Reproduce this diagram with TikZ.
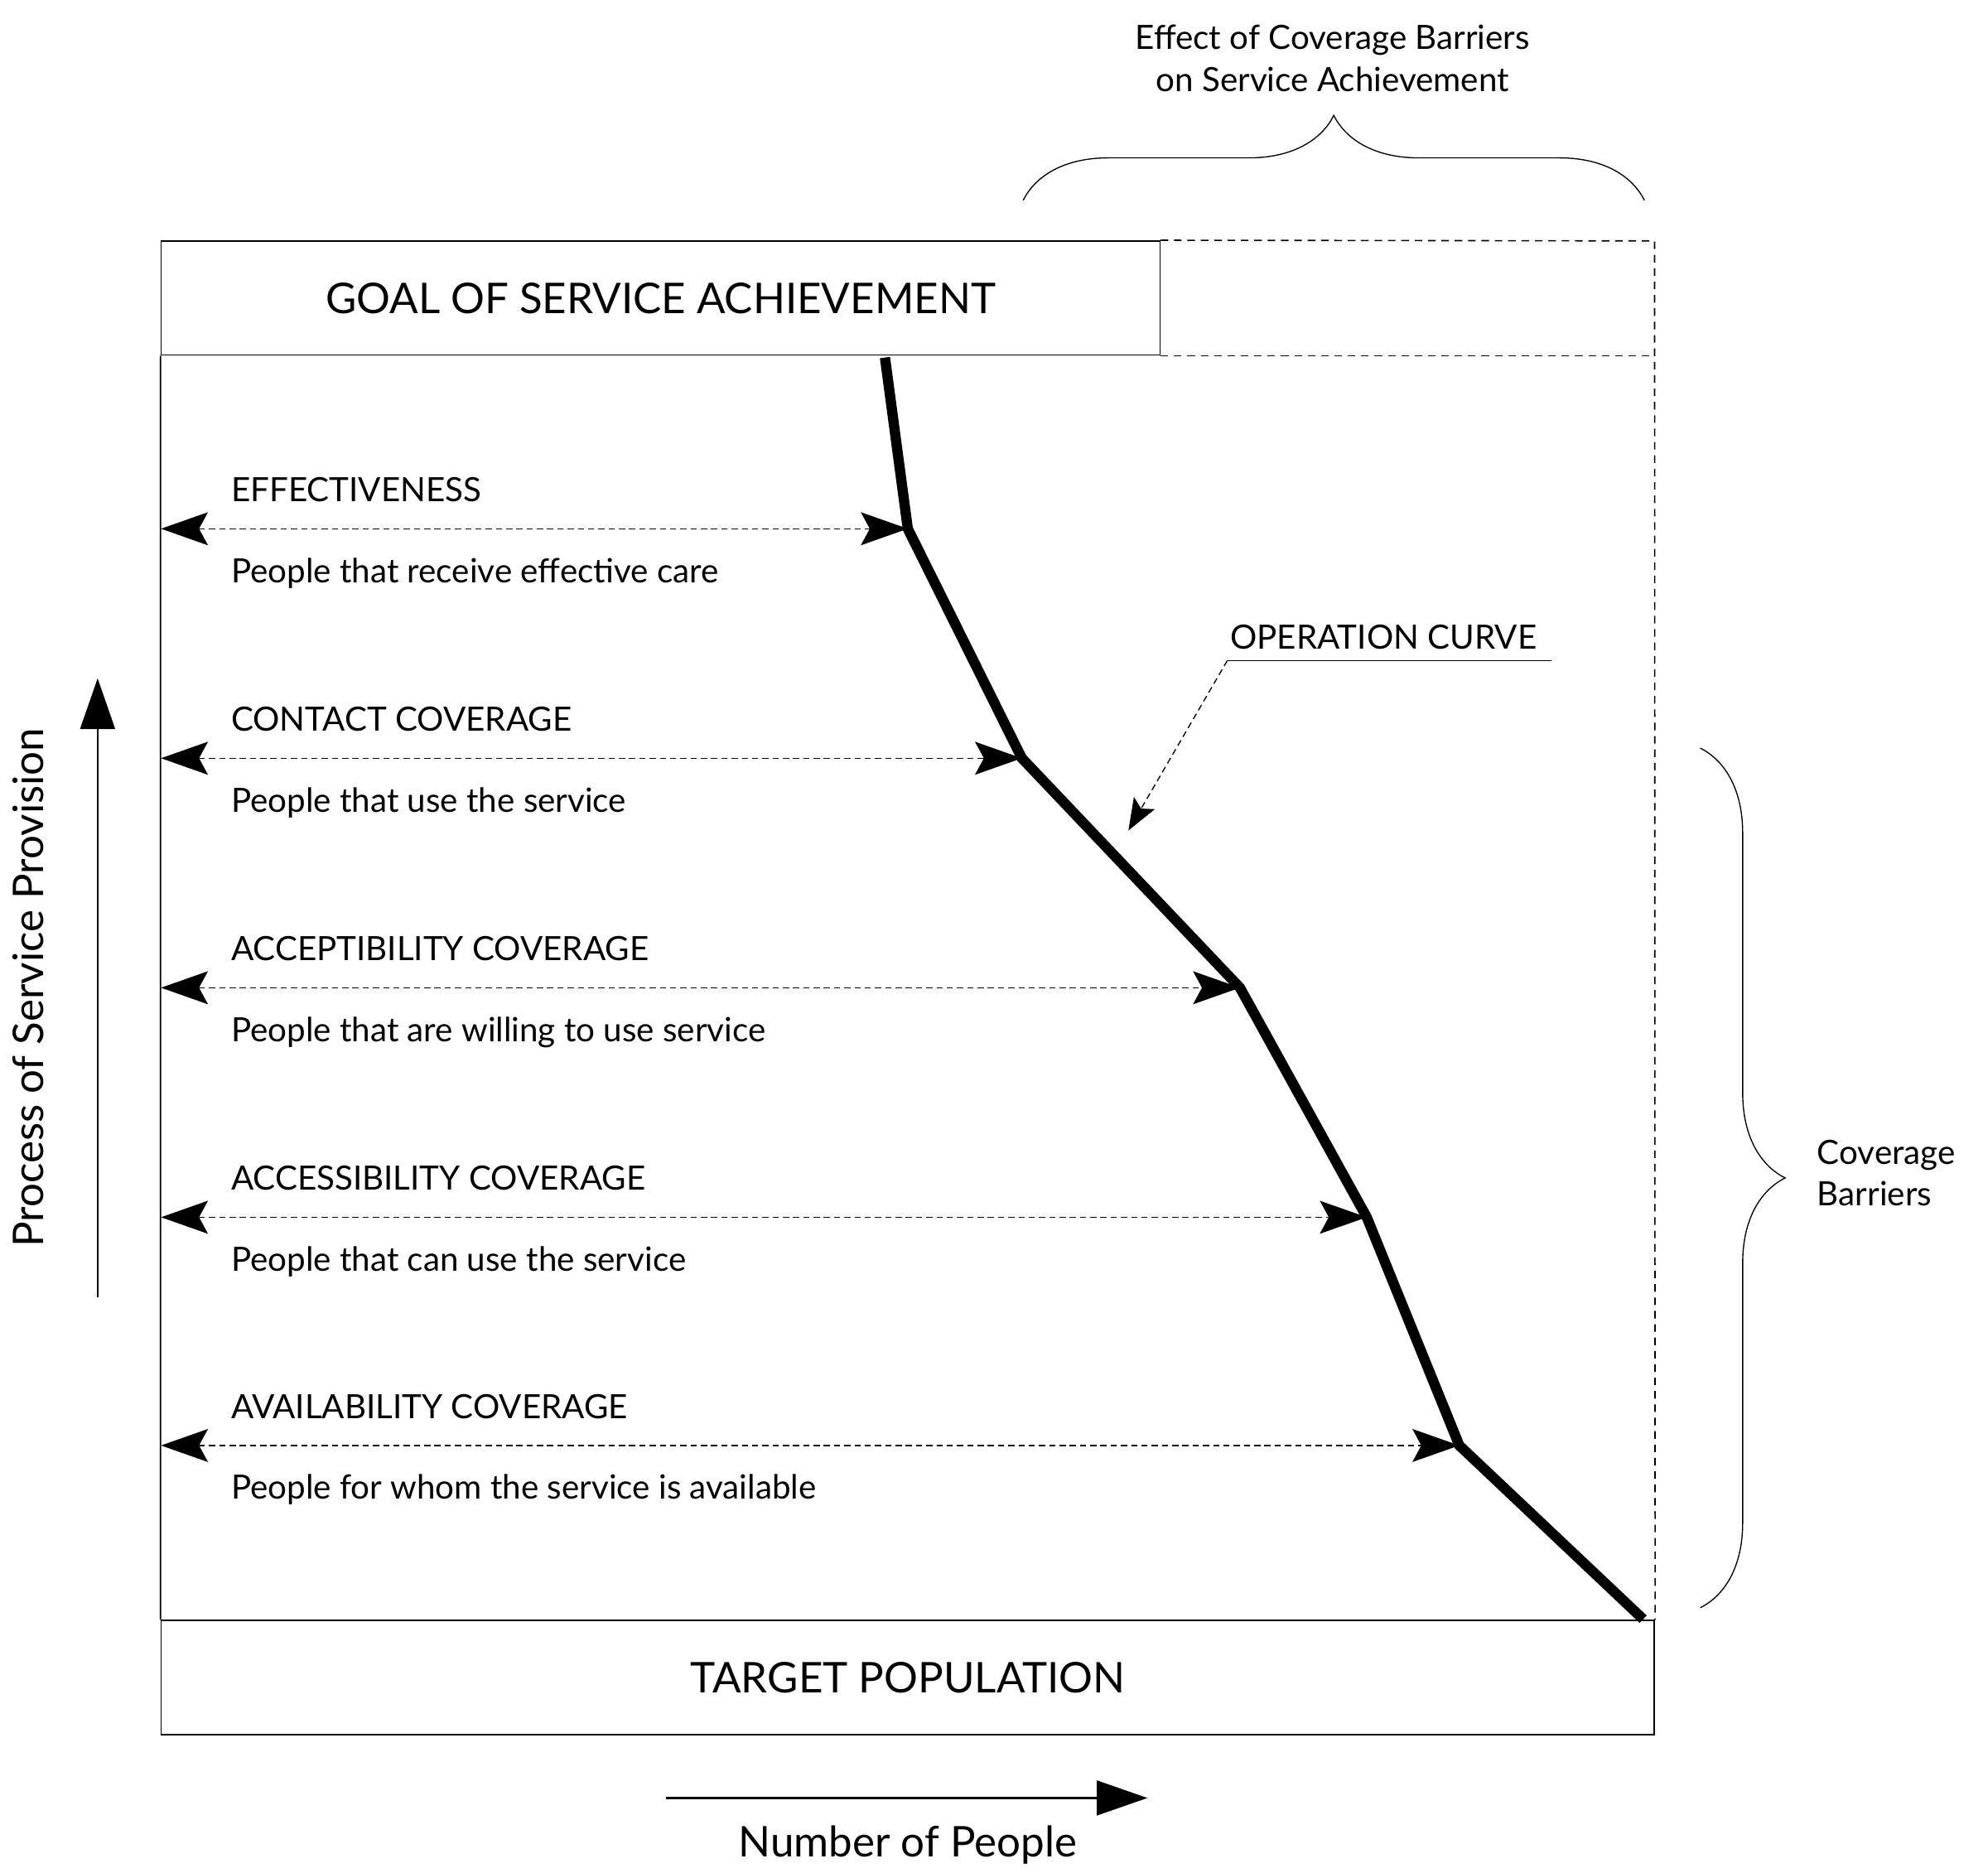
\documentclass[tikz,border=0pt]{standalone}
\usepackage{fontspec}
\setmainfont{Lato}
\usepackage{tikz}
\usetikzlibrary{arrows.meta,positioning,decorations.pathreplacing,calc}

\begin{document}
\begin{tikzpicture}[x=0.02cm, y=-0.02cm, every node/.style={font=\fontsize{15}{18.7}\selectfont, inner sep=0pt}, big/.style={font=\fontsize{19}{22}\selectfont}, box/.style={draw, line width=0.6pt, minimum height=1.8cm}, lbl/.style={anchor=base west}, frame/.style={line width=0.6pt}, dashline/.style={line width=0.6pt, dash pattern=on 3.4pt off 2.6pt}, arr/.style={{Stealth[length=0.74cm,width=0.52cm,inset=0.14cm]}-{Stealth[length=0.74cm,width=0.52cm,inset=0.14cm]}, line width=0.5pt, dash pattern=on 2.8pt off 1.8pt}, curve/.style={line width=4.6pt, line join=miter}, axis/.style={-{Triangle[length=0.8cm,width=0.55cm]}, line width=0.8pt}, brace/.style={decorate, decoration={brace, amplitude=1.34cm}, line width=0.5pt}]
\useasboundingbox (0,0) rectangle (1568,1477);
\node[box, big, minimum width=15.76cm] (goal) at (521,235) {GOAL OF SERVICE ACHIEVEMENT};
\node[box, big, minimum width=23.56cm] (target) at (716,1323) {TARGET POPULATION};
\coordinate (corner) at (1305,190);
\draw[frame] (goal.south west) -- (target.north west);
\draw[dashline] (goal.north east) -- (corner) -- (target.north east);
\draw[dashline] (goal.south east) -- (corner |- goal.south);
\coordinate (c0) at (698,282);
\coordinate (c1) at (716,417);
\coordinate (c2) at (806,598);
\coordinate (c3) at (978,779);
\coordinate (c4) at (1078,960);
\coordinate (c5) at (1151,1140);
\coordinate (c6) at (1296,1277);
\draw[curve] (c0) -- (c1) -- (c2) -- (c3) -- (c4) -- (c5) -- (c6);
\coordinate (e1) at (127,417);
\coordinate (e2) at (127,598);
\coordinate (e3) at (127,779);
\coordinate (e4) at (127,960);
\coordinate (e5) at (127,1140);
\draw[arr] (e1) -- (c1);
\draw[arr] (e2) -- (c2);
\draw[arr] (e3) -- (c3);
\draw[arr] (e4) -- (c4);
\draw[arr] (e5) -- (c5);
\node[lbl] (effname) at (182,395.5) {EFFECTIVENESS};
\node[lbl] (effdesc) at (182,459.5) {People that receive effective care};
\node[lbl] (conname) at (182,576.5) {CONTACT COVERAGE};
\node[lbl] (condesc) at (182,640.5) {People that use the service};
\node[lbl] (accname) at (182,757.5) {ACCEPTIBILITY COVERAGE};
\node[lbl] (accdesc) at (182,821.5) {People that are willing to use service};
\node[lbl] (cesname) at (182,938.5) {ACCESSIBILITY COVERAGE};
\node[lbl] (cesdesc) at (182,1002.5) {People that can use the service};
\node[lbl] (avaname) at (182,1118.5) {AVAILABILITY COVERAGE};
\node[lbl] (avadesc) at (182,1182.5) {People for whom the service is available};
\node[lbl] (opname) at (970,512) {OPERATION CURVE};
\coordinate (opleft) at (968,521);
\coordinate (opright) at (1224,521);
\coordinate (optip) at (890,655);
\draw[line width=0.5pt] (opleft) -- (opright);
\draw[-{Stealth[length=0.5cm,width=0.38cm,inset=0.1cm]}, line width=0.5pt, dash pattern=on 2.8pt off 1.8pt] (opleft) -- (optip);
\node[align=center] (effect) at (1051,46) {Effect of Coverage Barriers\\on Service Achievement};
\coordinate (tbl) at (807,158);
\coordinate (tbr) at (1297,158);
\draw[brace] (tbl) -- (tbr);
\coordinate (rbt) at (1341,590);
\coordinate (rbb) at (1341,1268);
\draw[brace] (rbt) -- (rbb);
\node[align=left, anchor=west] (barriers) at (1433,925) {Coverage\\Barriers};
\coordinate (ylo) at (77,1023);
\coordinate (yhi) at (77,535);
\draw[axis] (ylo) -- (yhi);
\node[big, rotate=90] (process) at (22,779) {Process of Service Provision};
\coordinate (xlo) at (525,1418);
\coordinate (xhi) at (905,1418);
\draw[axis] (xlo) -- (xhi);
\node[big] (people) at (716,1455) {Number of People};
\end{tikzpicture}
\end{document}
